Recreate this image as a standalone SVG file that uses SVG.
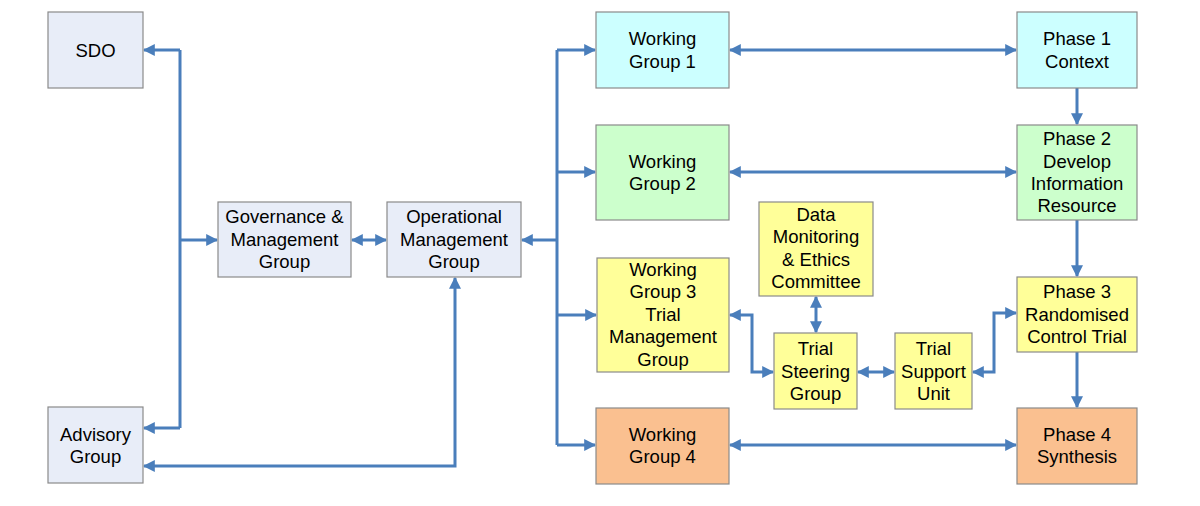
<svg xmlns="http://www.w3.org/2000/svg" width="1200" height="506" viewBox="0 0 1200 506">
<style>
.box{stroke:#8a8a8a;stroke-width:1.2}
.grey{fill:#E8EDF8}
.cyan{fill:#CCFFFF}
.green{fill:#CCFFCC}
.yellow{fill:#FFFF99}
.orange{fill:#FAC090}
text{font-family:"Liberation Sans",Arial,sans-serif;font-size:18.5px;fill:#000;text-anchor:middle}
.c{fill:none;stroke:#4A7EBB;stroke-width:3}
.a{marker-end:url(#ah)}
.b{marker-start:url(#ah);marker-end:url(#ah)}
</style>
<defs>
<marker id="ah" viewBox="0 0 10 10" refX="9" refY="5" markerWidth="12" markerHeight="12" markerUnits="userSpaceOnUse" orient="auto-start-reverse">
<path d="M0,0 L10,5 L0,10 z" fill="#4A7EBB"/>
</marker>
</defs>
<rect width="1200" height="506" fill="#fff"/>
<g id="connectors">
<path class="c" d="M180,50 L180,428"/>
<path class="c a" d="M180,50 L144,50"/>
<path class="c a" d="M180,428 L144,428"/>
<path class="c a" d="M180,240 L217,240"/>
<path class="c b" d="M352,240 L386,240"/>
<path class="c" d="M557,50 L557,445"/>
<path class="c a" d="M557,240 L522,240"/>
<path class="c a" d="M557,50 L595,50"/>
<path class="c a" d="M557,172 L595,172"/>
<path class="c a" d="M557,315 L596,315"/>
<path class="c a" d="M557,445 L595,445"/>
<path class="c b" d="M455,278 L455,466 L144,466"/>
<path class="c b" d="M730,50 L1016,50"/>
<path class="c b" d="M730,172 L1016,172"/>
<path class="c b" d="M730,445 L1016,445"/>
<path class="c a" d="M1077,88 L1077,124"/>
<path class="c a" d="M1077,220 L1077,276"/>
<path class="c a" d="M1077,352 L1077,407"/>
<path class="c b" d="M730,315 L752,315 L752,372 L773,372"/>
<path class="c b" d="M816,297 L816,332"/>
<path class="c b" d="M858,372 L894,372"/>
<path class="c b" d="M973,372 L994,372 L994,313 L1016,313"/>
</g>
<g id="sdo"><rect class="box grey" x="48" y="12" width="95" height="76"/><text x="95.5" y="56.5">SDO</text></g>
<g id="advisory"><rect class="box grey" x="48" y="407" width="95" height="76"/><text x="95.5" y="440.5">Advisory</text><text x="95.5" y="462.5">Group</text></g>
<g id="governance"><rect class="box grey" x="218" y="202" width="133" height="75"/><text x="284.5" y="222.5">Governance &amp;</text><text x="284.5" y="245.5">Management</text><text x="284.5" y="267.5">Group</text></g>
<g id="operational"><rect class="box grey" x="387" y="202" width="134" height="75"/><text x="454" y="222.5">Operational</text><text x="454" y="245.5">Management</text><text x="454" y="267.5">Group</text></g>
<g id="wg1"><rect class="box cyan" x="596" y="12" width="133" height="76"/><text x="662.5" y="44.5">Working</text><text x="662.5" y="67.5">Group 1</text></g>
<g id="wg2"><rect class="box green" x="596" y="125" width="133" height="95"/><text x="662.5" y="167.5">Working</text><text x="662.5" y="189.5">Group 2</text></g>
<g id="wg3"><rect class="box yellow" x="597" y="258" width="132" height="114"/><text x="663" y="275.5">Working</text><text x="663" y="297.5">Group 3</text><text x="663" y="320.5">Trial</text><text x="663" y="342.5">Management</text><text x="663" y="365.5">Group</text></g>
<g id="wg4"><rect class="box orange" x="596" y="408" width="133" height="76"/><text x="662.5" y="440.5">Working</text><text x="662.5" y="462.5">Group 4</text></g>
<g id="dmec"><rect class="box yellow" x="759" y="202" width="114" height="94"/><text x="816" y="220.5">Data</text><text x="816" y="242.5">Monitoring</text><text x="816" y="265.5">&amp; Ethics</text><text x="816" y="287.5">Committee</text></g>
<g id="tsg"><rect class="box yellow" x="774" y="333" width="83" height="76"/><text x="815.5" y="354.5">Trial</text><text x="815.5" y="377.5">Steering</text><text x="815.5" y="399.5">Group</text></g>
<g id="tsu"><rect class="box yellow" x="895" y="333" width="77" height="76"/><text x="933.5" y="354.5">Trial</text><text x="933.5" y="377.5">Support</text><text x="933.5" y="399.5">Unit</text></g>
<g id="phase1"><rect class="box cyan" x="1017" y="12" width="120" height="76"/><text x="1077" y="44.5">Phase 1</text><text x="1077" y="67.5">Context</text></g>
<g id="phase2"><rect class="box green" x="1017" y="125" width="120" height="95"/><text x="1077" y="144.5">Phase 2</text><text x="1077" y="167.5">Develop</text><text x="1077" y="189.5">Information</text><text x="1077" y="211.5">Resource</text></g>
<g id="phase3"><rect class="box yellow" x="1017" y="277" width="120" height="75"/><text x="1077" y="297.5">Phase 3</text><text x="1077" y="320.5">Randomised</text><text x="1077" y="342.5">Control Trial</text></g>
<g id="phase4"><rect class="box orange" x="1017" y="408" width="120" height="76"/><text x="1077" y="440.5">Phase 4</text><text x="1077" y="462.5">Synthesis</text></g>
</svg>
